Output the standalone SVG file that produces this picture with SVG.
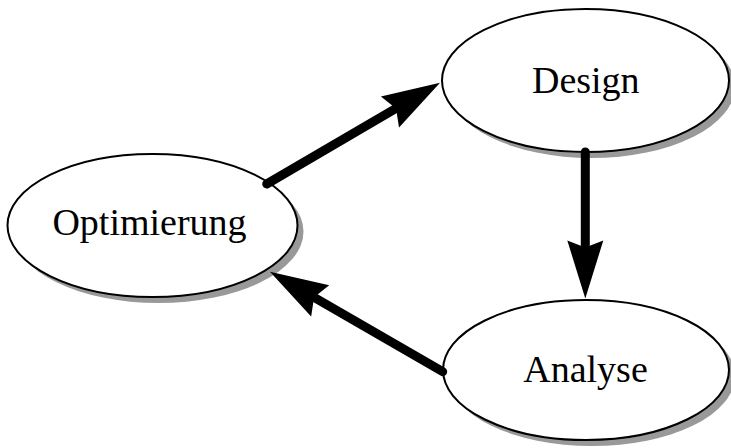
<svg xmlns="http://www.w3.org/2000/svg" width="731" height="448" viewBox="0 0 731 448">
  <style>
    .shadow { fill: #999999; stroke: none; }
    .node { fill: #ffffff; stroke: #000000; stroke-width: 2; }
    .label { font-family: "Liberation Serif", "Times New Roman", serif; font-size: 38px; fill: #000000; text-anchor: middle; }
    .edge { fill: none; stroke: #000000; stroke-width: 9; stroke-linecap: round; marker-end: url(#head); }
  </style>
  <defs>
    <!-- barbed arrowhead; origin sits at the notch where the shaft ends -->
    <marker id="head" markerUnits="userSpaceOnUse" viewBox="-8 -19 60 38" markerWidth="60" markerHeight="38" refX="0" refY="0" orient="auto">
      <path d="M51,0 L-7,-18 L0,0 L-7,18 Z" fill="#000000"/>
    </marker>
  </defs>
  <rect width="731" height="448" fill="#ffffff"/>

  <g id="design">
    <ellipse class="shadow" cx="591.5" cy="86.5" rx="143.5" ry="71.5"/>
    <ellipse class="node" cx="585.5" cy="80.5" rx="143.5" ry="71.5"/>
    <text class="label" x="585.8" y="93">Design</text>
  </g>

  <g id="optimierung">
    <ellipse class="shadow" cx="158.5" cy="231.5" rx="145" ry="71.5"/>
    <ellipse class="node" cx="152.5" cy="225.5" rx="145" ry="71.5"/>
    <text class="label" x="149.5" y="235">Optimierung</text>
  </g>

  <g id="analyse">
    <ellipse class="shadow" cx="592" cy="376" rx="143" ry="70"/>
    <ellipse class="node" cx="586" cy="370" rx="143" ry="70"/>
    <text class="label" x="585.5" y="381.5">Analyse</text>
  </g>

  <g id="connectors">
    <line class="edge" x1="266.7" y1="184" x2="396" y2="108.4"/>
    <line class="edge" x1="585.3" y1="152" x2="585.3" y2="247.5"/>
    <line class="edge" x1="442.7" y1="371.7" x2="314.1" y2="297.3"/>
  </g>
</svg>
